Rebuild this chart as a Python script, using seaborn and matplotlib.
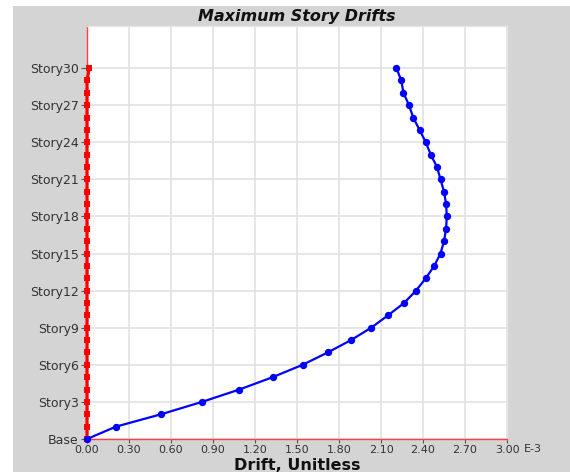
import numpy as np
import pandas as pd
import matplotlib
matplotlib.use("Agg")
import matplotlib.pyplot as plt
import seaborn as sns
from matplotlib.patches import Rectangle

# ---- data ----
stories = list(range(0, 31))  # 0 = Base, 1..30 = Story1..Story30
drift_x = [0.0, 0.207, 0.529, 0.821, 1.088, 1.326, 1.54, 1.72, 1.886, 2.03,
           2.15, 2.265, 2.35, 2.42, 2.48, 2.525, 2.55, 2.565, 2.57, 2.565,
           2.55, 2.525, 2.50, 2.455, 2.42, 2.375, 2.33, 2.30, 2.26, 2.245, 2.21]
drift_y = [0.0] * 30 + [0.016]
ytick_vals = [0, 3, 6, 9, 12, 15, 18, 21, 24, 27, 30]
ytick_labels = ["Base", "Story3", "Story6", "Story9", "Story12", "Story15",
                "Story18", "Story21", "Story24", "Story27", "Story30"]
xtick_vals = [0.0, 0.3, 0.6, 0.9, 1.2, 1.5, 1.8, 2.1, 2.4, 2.7, 3.0]
xtick_labels = ["0.00", "0.30", "0.60", "0.90", "1.20", "1.50", "1.80",
                "2.10", "2.40", "2.70", "3.00"]

sns.set_theme(style="white")
plt.rcParams['font.family'] = ['DejaVu Sans']

W, H = 570, 472
fig = plt.figure(figsize=(W / 100, H / 100), dpi=100)
fig.patch.set_facecolor("#d4d4d4")
# white strips at top and left
fig.patches.append(Rectangle((0, 1 - 6 / H), 1, 6 / H, transform=fig.transFigure,
                             facecolor="white", edgecolor="none", zorder=0))
fig.patches.append(Rectangle((0, 0), 13 / W, 1, transform=fig.transFigure,
                             facecolor="white", edgecolor="none", zorder=0))

ax = fig.add_axes([87 / W, (H - 439) / H, 420 / W, (439 - 26) / H])
ax.set_facecolor("white")

df_x = pd.DataFrame({"drift": drift_x, "story": stories})
df_y = pd.DataFrame({"drift": drift_y, "story": stories})

sns.lineplot(data=df_y, x="drift", y="story", sort=False, estimator=None, ax=ax,
             color="#ff0000", linewidth=2.3, marker="s", markersize=4.6,
             markeredgewidth=0, clip_on=False, zorder=4)
sns.lineplot(data=df_x, x="drift", y="story", sort=False, estimator=None, ax=ax,
             color="#0000ff", linewidth=1.6, marker="o", markersize=5.3,
             markeredgewidth=0, clip_on=False, zorder=5)

ax.set_xlim(0, 3.0)
ax.set_ylim(0, 33.4)
ax.set_xticks(xtick_vals)
ax.set_xticklabels(xtick_labels)
ax.set_yticks(ytick_vals)
ax.set_yticklabels(ytick_labels)
ax.grid(True, color="#e2e2e2", linewidth=1.2)
ax.set_axisbelow(True)

for side in ["top", "right"]:
    ax.spines[side].set_color("#e6e6e6")
    ax.spines[side].set_linewidth(1)
ax.spines["left"].set_color("#ff4040")
ax.spines["bottom"].set_color("#ff4040")
ax.spines["left"].set_linewidth(1)
ax.spines["bottom"].set_linewidth(1)

ax.tick_params(axis="y", which="both", length=4, width=0.8, color="#555555",
               labelsize=9, labelcolor="#333333", pad=2, direction="out",
               left=True)
ax.tick_params(axis="x", which="both", length=3, width=0.8, color="#555555",
               labelsize=8, labelcolor="#333333", pad=1.5, direction="out",
               bottom=True)
ax.set_xlabel("")
ax.set_ylabel("")
fig.text(524 / W, 1 - 449 / H, "E-3", ha="left", va="center",
         fontsize=8, color="#333333")
fig.text(297 / W, 1 - 465 / H, "Drift, Unitless", ha="center", va="center",
         fontsize=11.5, fontweight="bold", color="#111111")
fig.text(297 / W, 1 - 16 / H, "Maximum Story Drifts", ha="center", va="center",
         fontsize=11.5, fontweight="bold", fontstyle="italic", color="#111111")

fig.savefig("out.png", dpi=100, facecolor=fig.get_facecolor())
